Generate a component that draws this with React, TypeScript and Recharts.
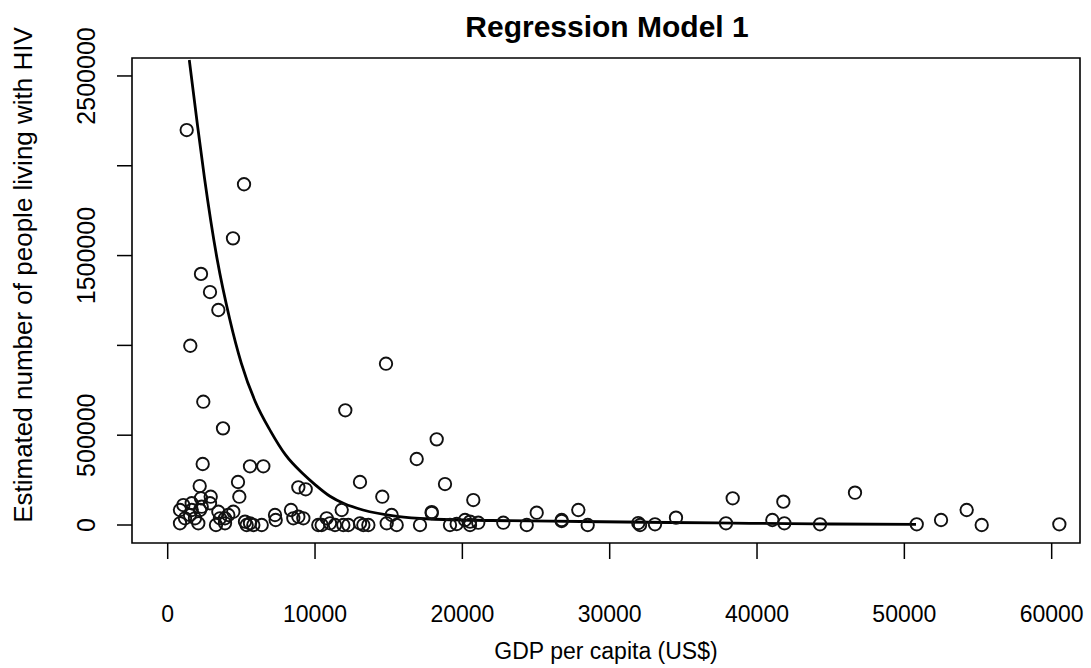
import React from 'react';
import { ComposedChart, Scatter, Line, XAxis, YAxis, ReferenceArea } from 'recharts';

// Observed countries: GDP per capita (US$) and estimated number of people living with HIV
const gdpPerCapita = [
  1289, 5180, 4432, 2260, 2871, 3437, 1534, 14817, 2416, 3754, 12055, 16900, 2375, 5586, 6491,
  2172, 4772, 13052, 4861, 14566, 8867, 9367, 2919, 2260,
  835, 1060, 1630, 2308, 2871, 835, 1174, 1514, 1853, 2077, 2192, 1630,
  3437, 3550, 3278, 3889, 3889, 4114, 4453, 5247, 5586, 5360, 5812, 6380, 7283, 7330,
  8369, 8527, 8867, 9206, 10222, 10450, 10790, 11016, 11355, 11810, 11920, 12260, 13052, 13280,
  13620, 14865, 15200, 15543,
  18258, 18822, 20743, 25046, 27870, 38349, 17920, 17920, 17125, 19160, 19615, 20180, 20520,
  20520, 21080, 22780, 24370, 26740, 26740, 28507, 31940, 32060, 33075, 34500, 37894,
  41787, 46650, 41040, 41855, 44275, 50840, 52490, 54230, 55250, 60520,
];
const hivPeople = [
  2199000, 1897000, 1596000, 1398000, 1297000, 1197000, 998000, 898000, 686500, 538000, 638600, 367500, 339600, 326800, 326800,
  217000, 239400, 239400, 157600, 157600, 209900, 198800, 157600, 148700,
  83500, 111000, 121000, 102000, 121000, 9500, 37300, 55700, 37300, 9500, 83500, 83500,
  74000, 37300, 0, 37300, 9500, 55700, 74000, 18600, 9500, 0, 0, 0, 55700, 27800,
  83500, 37300, 46400, 37300, 0, 0, 37300, 9500, 0, 83500, 0, 0, 9500, 0,
  0, 9500, 55700, 0,
  477000, 228000, 139000, 68500, 83500, 148700, 66800, 72000, 0, 0, 5600, 27800, 0,
  18600, 12800, 12800, 0, 27800, 22000, 0, 11000, 0, 3900, 40800, 9500,
  130000, 180000, 27800, 9500, 3900, 3900, 27800, 83500, 0, 3900,
];

// Fitted regression curve
const fitGdp = [1466, 2000, 2500, 3367, 4200, 5000, 5925, 7000, 8000, 9183, 10000, 11016, 12000, 13256, 15564, 17804, 22000, 28000, 34000, 39510, 45000, 50790];
const fitHiv = [2589000, 2240000, 1930000, 1475000, 1150000, 900000, 690000, 520000, 390000, 285000, 225000, 160000, 118000, 83500, 48000, 33400, 25000, 19500, 14000, 9500, 5600, 3900];

const xTicks = [0, 10000, 20000, 30000, 40000, 50000, 60000];
const yTicks = [0, 500000, 1000000, 1500000, 2000000, 2500000];
const yLabelled = [0, 500000, 1500000, 2500000];
const X_DOMAIN: [number, number] = [-2423, 61922];
const Y_DOMAIN: [number, number] = [-100200, 2600000];

const points = gdpPerCapita.map((x, i) => ({ x, y: hivPeople[i] }));
const fit = fitGdp.map((x, i) => ({ x, y: fitHiv[i] }));

const FONT = '"Liberation Sans", Arial, Helvetica, sans-serif';

const XTick = (props: any) => {
  const { x, payload } = props;
  return (
    <text x={x} y={622} textAnchor="middle" fontSize={23} fontFamily={FONT} fill="#000">
      {payload.value}
    </text>
  );
};

const YTick = (props: any) => {
  const { y, payload } = props;
  if (!yLabelled.includes(payload.value)) return <g />;
  return (
    <text
      x={95}
      y={y}
      transform={`rotate(-90, 95, ${y})`}
      textAnchor="middle"
      fontSize={25}
      fontFamily={FONT}
      fill="#000"
    >
      {payload.value}
    </text>
  );
};

const OpenCircle = (props: any) => {
  const { cx, cy } = props;
  return <circle cx={cx} cy={cy} r={6.2} fill="none" stroke="#111" strokeWidth={1.9} />;
};

export default function App() {
  return (
    <div style={{ position: 'absolute', left: 0, top: 0, width: 1091, height: 668, background: '#fff' }}>
      <ComposedChart
        width={1091}
        height={668}
        margin={{ top: 58, right: 11, bottom: 0, left: 0 }}
      >
        <XAxis
          type="number"
          dataKey="x"
          domain={X_DOMAIN}
          allowDataOverflow
          ticks={xTicks}
          interval={0}
          axisLine={false}
          tickLine={{ stroke: '#000', strokeWidth: 1.5 }}
          tickSize={16}
          height={125}
          tick={<XTick />}
        />
        <YAxis
          type="number"
          dataKey="y"
          domain={Y_DOMAIN}
          allowDataOverflow
          ticks={yTicks}
          interval={0}
          axisLine={false}
          tickLine={{ stroke: '#000', strokeWidth: 1.5 }}
          tickSize={15}
          width={132}
          tick={<YTick />}
        />
        <ReferenceArea
          x1={X_DOMAIN[0]}
          x2={X_DOMAIN[1]}
          y1={Y_DOMAIN[0]}
          y2={Y_DOMAIN[1]}
          fill="none"
          fillOpacity={0}
          stroke="#000"
          strokeWidth={1.6}
          ifOverflow="visible"
        />
        <Scatter data={points} shape={<OpenCircle />} isAnimationActive={false} />
        <Line
          data={fit}
          dataKey="y"
          type="monotone"
          dot={false}
          stroke="#000"
          strokeWidth={2.8}
          isAnimationActive={false}
        />
      </ComposedChart>
      <svg
        width={1091}
        height={668}
        style={{ position: 'absolute', left: 0, top: 0, pointerEvents: 'none' }}
      >
        <text x={607} y={37} textAnchor="middle" fontSize={30} fontWeight="bold" fontFamily={FONT} fill="#000">
          Regression Model 1
        </text>
        <text x={606} y={659} textAnchor="middle" fontSize={23} fontFamily={FONT} fill="#000">
          GDP per capita (US$)
        </text>
        <text
          x={32}
          y={275}
          transform="rotate(-90, 32, 275)"
          textAnchor="middle"
          fontSize={26}
          fontFamily={FONT}
          fill="#000"
        >
          Estimated number of people living with HIV
        </text>
      </svg>
    </div>
  );
}
